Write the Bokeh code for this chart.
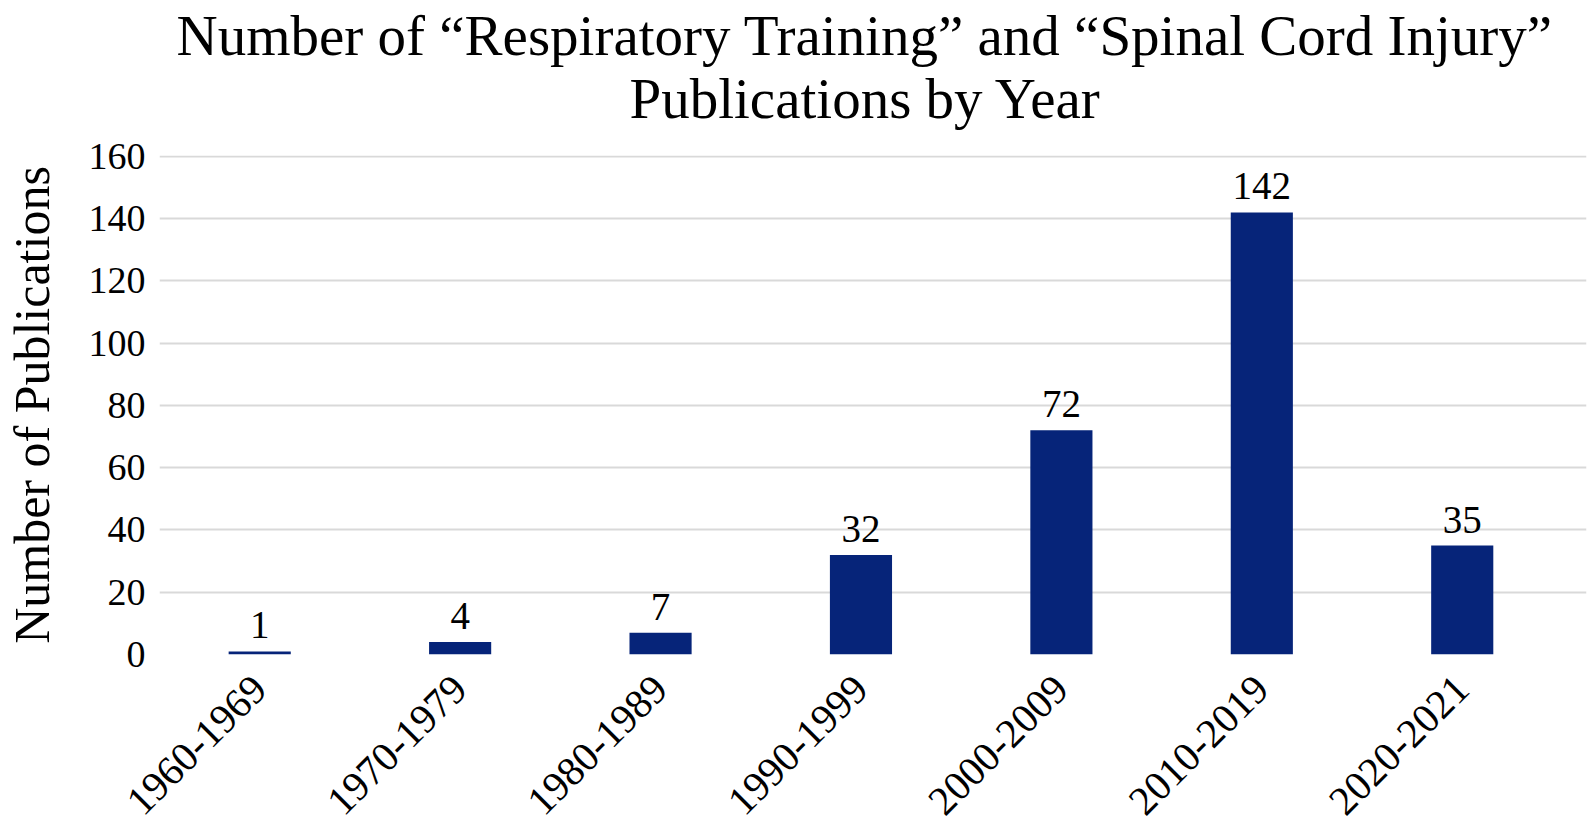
import math
from bokeh.plotting import figure
from bokeh.models import ColumnDataSource, Range1d, FixedTicker, LabelSet, Title
from bokeh.embed import file_html
from bokeh.resources import INLINE

categories = ["1960-1969", "1970-1979", "1980-1989", "1990-1999", "2000-2009", "2010-2019", "2020-2021"]
publications = [1, 4, 7, 32, 72, 142, 35]
y_ticks = [0, 20, 40, 60, 80, 100, 120, 140, 160]
title_lines = ["Number of \u201cRespiratory Training\u201d and \u201cSpinal Cord Injury\u201d", "Publications by Year"]

FONT = "Liberation Serif"
BAR_COLOR = "#062479"

positions = list(range(len(categories)))
src = ColumnDataSource(data=dict(
    x=positions,
    y=publications,
    label=[str(v) for v in publications],
))

p = figure(width=1591, height=832, output_backend="svg", toolbar_location=None,
           x_range=Range1d(-0.5, 6.62), y_range=Range1d(0, 160.3),
           min_border_left=159, min_border_right=5, min_border_top=155, min_border_bottom=178)

p.vbar(x="x", top="y", width=0.31, source=src, color=BAR_COLOR, line_color=None)

p.add_layout(LabelSet(x="x", y="y", text="label", source=src, text_align="center",
                      text_baseline="alphabetic", y_offset=13, text_font=FONT,
                      text_font_size="39px", text_color="black"))

# Bokeh stacks "above" panels outward: add the lower line first
for txt, st, off in ((title_lines[1], 52, 470), (title_lines[0], -57, 17)):
    t = Title(text=txt, align="left", text_font=FONT, text_font_size="57px",
              text_font_style="normal", text_color="black", offset=off, standoff=st)
    p.add_layout(t, "above")

p.outline_line_color = None
p.background_fill_color = "white"
p.border_fill_color = "white"

p.xgrid.grid_line_color = None
p.ygrid.grid_line_color = "#d9d9d9"
p.ygrid.grid_line_width = 2
p.yaxis.ticker = FixedTicker(ticks=y_ticks)
p.xaxis.ticker = FixedTicker(ticks=positions)
p.xaxis.major_label_overrides = {i: c for i, c in enumerate(categories)}

for ax in (p.xaxis, p.yaxis):
    ax.axis_line_color = None
    ax.major_tick_line_color = None
    ax.minor_tick_line_color = None
    ax.major_tick_out = 0
    ax.major_tick_in = 0
    ax.minor_tick_out = 0
    ax.minor_tick_in = 0
    ax.major_label_text_font = FONT
    ax.major_label_text_font_size = "38px"
    ax.major_label_text_color = "black"

p.yaxis.major_label_standoff = 14
p.xaxis.major_label_orientation = math.pi / 4
p.xaxis.major_label_text_font_size = "41px"
p.xaxis.major_label_standoff = 28
p.xaxis.major_label_text_line_height = 0.8

p.yaxis.axis_label = "Number of Publications"
p.yaxis.axis_label_text_font = FONT
p.yaxis.axis_label_text_font_size = "50px"
p.yaxis.axis_label_text_font_style = "normal"
p.yaxis.axis_label_text_color = "black"
p.yaxis.axis_label_standoff = 26

open("out.html", "w").write(file_html(p, INLINE))
